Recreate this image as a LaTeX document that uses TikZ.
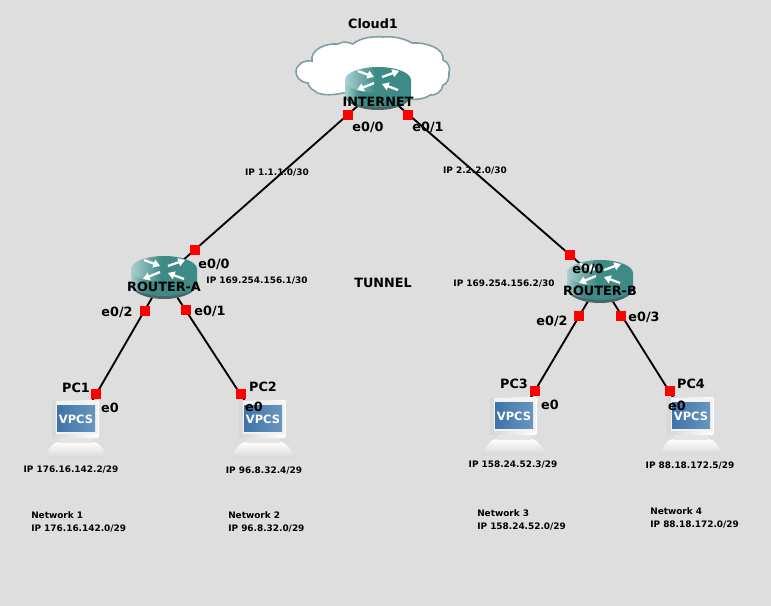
\documentclass[tikz,border=0pt]{standalone}
\usepackage{fontspec}
\setmainfont{DejaVu Sans}
\usetikzlibrary{arrows.meta}
\definecolor{bgrey}{RGB}{222,222,222}
\definecolor{rteal}{RGB}{62,138,135}
\definecolor{rlite}{RGB}{170,208,208}
\definecolor{rrim}{RGB}{75,100,100}
\definecolor{cedge}{RGB}{125,160,165}
\definecolor{sblue}{RGB}{62,115,170}
\definecolor{sblue2}{RGB}{105,150,190}
\pgfdeclarehorizontalshading{routerside}{100bp}{color(0bp)=(rlite); color(25bp)=(rlite); color(36bp)=(rteal); color(100bp)=(rteal)}
\pgfdeclarehorizontalshading{routertop}{100bp}{color(0bp)=(rlite); color(25bp)=(rlite); color(48bp)=(rteal); color(100bp)=(rteal)}
\tikzset{
  dev/.style={inner sep=0pt, minimum size=0pt},
  port/.style={fill=red, minimum size=7.5pt, inner sep=0pt},
  link/.style={draw=black, line width=1.4pt},
  devname/.style={font=\bfseries\fontsize{9.6}{11}\selectfont, inner sep=0pt},
  addr/.style={font=\bfseries\fontsize{6.7}{10.4}\selectfont, inner sep=0pt, align=left},
  router/.pic={
    \fill[rrim] (-33,7) arc[start angle=180, end angle=0, x radius=33, y radius=15] -- cycle;
    \shade[shading=routerside]
      (-33,-8) -- (-33,6) arc[start angle=180, end angle=0, x radius=33, y radius=13] -- (33,-8) -- cycle;
    \shade[shading=routertop] (0,-8) ellipse[x radius=33, y radius=13];
    \foreach \sx/\sy/\tx/\ty in {-20/-17/-4/-11, 20/2/4/-4, 4/-11/21/-17, -4/-5/-21/2}
      \draw[white, line width=1.7pt, -{Triangle[length=5pt,width=6pt]}] (\sx,\sy) -- (\tx,\ty);
  },
  pcset/.pic={
    \shade[top color=white, bottom color=black!16] (-31,29) .. controls (-29,20) and (-22,13) .. (-18,13) -- (18,13) .. controls (22,13) and (29,20) .. (31,29) -- cycle;
    \fill[black!10] (-17,8) rectangle (17,14);
    \shade[left color=black!16, right color=white, rounded corners=1pt] (-24,-29) rectangle (23,9);
    \fill[black!5] (-20,-28) rectangle (22,5);
    \shade[left color=sblue, right color=sblue2] (-19,-24) rectangle (19,2);
    \node[font=\bfseries\fontsize{8.6}{10}\selectfont, text=white] (vpcs) at (0,-9.5) {VPCS};
  },
}
\begin{document}
\begin{tikzpicture}[x=.75pt, y=-.75pt]
\useasboundingbox[fill=bgrey] (0,0) rectangle (771,606);
% cloud
\draw[fill=white, draw=cedge, line width=1.2pt] (296,72)
  .. controls (296,64) and (304,60) .. (312,61)
  .. controls (310,50) and (325,43) .. (338,44)
  .. controls (343,41) and (348,42) .. (353,44)
  .. controls (360,38) and (372,36) .. (383,37)
  .. controls (395,36) and (405,39) .. (412,43)
  .. controls (425,42) and (445,48) .. (443,60)
  .. controls (448,62) and (451,68) .. (449,72)
  .. controls (450,78) and (447,84) .. (443,85)
  .. controls (442,92) and (435,96) .. (430,95)
  .. controls (425,99) and (415,100) .. (410,99)
  -- (343,93)
  .. controls (330,96) and (318,95) .. (315,91)
  .. controls (312,90) and (308,86) .. (308,83)
  .. controls (300,82) and (296,77) .. (296,72) -- cycle;
% device centres
\node[dev] (inet) at (378,88) {};
\node[dev] (rtrA) at (164,277) {};
\node[dev] (rtrB) at (600,281) {};
\node[dev] (pc1) at (76,429) {};
\node[dev] (pc2) at (263,429) {};
\node[dev] (pc3) at (514,426) {};
\node[dev] (pc4) at (691,426) {};
% links
\draw[link] (inet) -- (rtrA);
\draw[link] (inet) -- (rtrB);
\draw[link] (rtrA) -- (pc1);
\draw[link] (rtrA) -- (pc2);
\draw[link] (rtrB) -- (pc3);
\draw[link] (rtrB) -- (pc4);
% icons
\pic at (inet) {router};
\pic at (rtrA) {router};
\pic at (rtrB) {router};
\pic at (pc1) {pcset};
\pic at (pc2) {pcset};
\pic at (pc3) {pcset};
\pic at (pc4) {pcset};
% ports
\node[port] (p1) at (348,115) {};
\node[port] (p2) at (408,115) {};
\node[port] (p3) at (195,250) {};
\node[port] (p4) at (570,255) {};
\node[port] (p5) at (145,311) {};
\node[port] (p6) at (186,310) {};
\node[port] (p7) at (579,316) {};
\node[port] (p8) at (621,316) {};
\node[port] (p9) at (96,394) {};
\node[port] (p10) at (241,394) {};
\node[port] (p11) at (535,391) {};
\node[port] (p12) at (670,391) {};
% names
\node[devname] (cloudname) at (373,24) {Cloud1};
\node[devname] (inetname) at (378,102) {INTERNET};
\node[devname] (rtrAname) at (164,287) {ROUTER-A};
\node[devname] (rtrBname) at (600,291) {ROUTER-B};
\node[devname] (pc1name) at (76,388) {PC1};
\node[devname] (pc2name) at (263,387) {PC2};
\node[devname] (pc3name) at (514,384) {PC3};
\node[devname] (pc4name) at (691,384) {PC4};
\node[devname] (tunnel) at (383,283) {TUNNEL};
% interfaces
\node[devname] (e1) at (368,127) {e0/0};
\node[devname] (e2) at (428,127) {e0/1};
\node[devname] (e3) at (214,264) {e0/0};
\node[devname] (e4) at (588,269) {e0/0};
\node[devname] (e5) at (117,312) {e0/2};
\node[devname] (e6) at (210,311) {e0/1};
\node[devname] (e7) at (552,321) {e0/2};
\node[devname] (e8) at (644,317) {e0/3};
\node[devname] (e9) at (110,408) {e0};
\node[devname] (e10) at (254,407) {e0};
\node[devname] (e11) at (550,405) {e0};
\node[devname] (e12) at (677,406) {e0};
% addresses
\node[addr] (n1) at (277,173) {IP 1.1.1.0/30};
\node[addr] (n2) at (475,171) {IP 2.2.2.0/30};
\node[addr] (n3) at (257,281) {IP 169.254.156.1/30};
\node[addr] (n4) at (504,284) {IP 169.254.156.2/30};
\node[addr] (n5) at (71,470) {IP 176.16.142.2/29};
\node[addr] (n6) at (264,471) {IP 96.8.32.4/29};
\node[addr] (n7) at (513,465) {IP 158.24.52.3/29};
\node[addr] (n8) at (690,466) {IP 88.18.172.5/29};
\node[addr, anchor=north west] (n9) at (31,511) {Network 1\\IP 176.16.142.0/29};
\node[addr, anchor=north west] (n10) at (228,511) {Network 2\\IP 96.8.32.0/29};
\node[addr, anchor=north west] (n11) at (477,509) {Network 3\\IP 158.24.52.0/29};
\node[addr, anchor=north west] (n12) at (650,507) {Network 4\\IP 88.18.172.0/29};
\end{tikzpicture}
\end{document}
